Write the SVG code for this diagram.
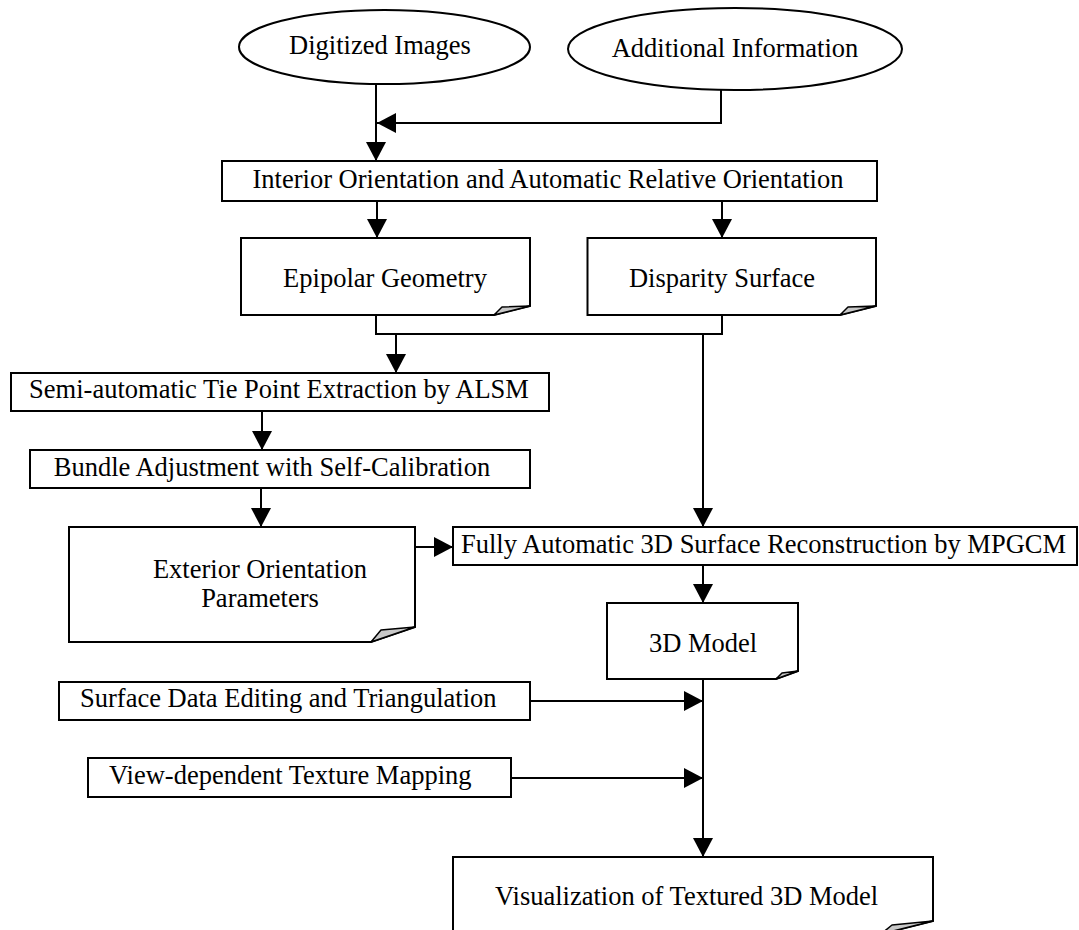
<svg xmlns="http://www.w3.org/2000/svg" width="1079" height="930" viewBox="0 0 1079 930">
  <style>
    .shape { fill: #ffffff; stroke: #000000; stroke-width: 2; }
    .curl { fill: #c8c8c8; stroke: #000000; stroke-width: 1.5; stroke-linejoin: round; }
    .label { font-family: "Liberation Serif", "Times New Roman", serif; font-size: 26.5px; fill: #000000; }
    .mid { text-anchor: middle; }
    .wire { fill: none; stroke: #000000; stroke-width: 2; }
    .arrow { marker-end: url(#head); }
  </style>
  <defs>
    <marker id="head" viewBox="0 0 19 20" refX="19" refY="10" markerWidth="19" markerHeight="20" markerUnits="userSpaceOnUse" orient="auto">
      <path d="M0,0 L19,10 L0,20 Z" fill="#000000"/>
    </marker>
  </defs>

  <rect width="1079" height="930" fill="#ffffff"/>

  <!-- connectors -->
  <g id="connectors">
    <path class="wire arrow" d="M376,84 V161"/>
    <path class="wire arrow" d="M721,90 V123 H377"/>
    <path class="wire arrow" d="M377,201 V238"/>
    <path class="wire arrow" d="M722,201 V238"/>
    <path class="wire" d="M376,315 V334 H722 V315"/>
    <path class="wire arrow" d="M396,334 V373"/>
    <path class="wire arrow" d="M703,334 V527"/>
    <path class="wire arrow" d="M262,411 V450"/>
    <path class="wire arrow" d="M261,488 V527"/>
    <path class="wire arrow" d="M416,547 H453"/>
    <path class="wire arrow" d="M703,565 V603"/>
    <path class="wire arrow" d="M703,679 V857"/>
    <path class="wire arrow" d="M530,701 H703"/>
    <path class="wire arrow" d="M511,778 H703"/>
  </g>

  <!-- inputs -->
  <g id="digitized-images">
    <ellipse class="shape" cx="384.5" cy="47" rx="145.5" ry="37"/>
    <text class="label mid" x="380" y="54">Digitized Images</text>
  </g>
  <g id="additional-information">
    <ellipse class="shape" cx="735" cy="49" rx="167" ry="41"/>
    <text class="label mid" x="735" y="57">Additional Information</text>
  </g>

  <g id="interior-orientation">
    <rect class="shape" x="222" y="161" width="655" height="40"/>
    <text class="label mid" x="548" y="188">Interior Orientation and Automatic Relative Orientation</text>
  </g>

  <g id="epipolar-geometry">
    <path class="shape" d="M241,238 H530 V306 L494,315 H241 Z"/>
    <path class="curl" d="M494,315 L502,307 L530,306 Z"/>
    <text class="label mid" x="385" y="287">Epipolar Geometry</text>
  </g>

  <g id="disparity-surface">
    <path class="shape" d="M587.5,238 H876 V306 L840,315 H587.5 Z"/>
    <path class="curl" d="M840,315 L848,307 L876,306 Z"/>
    <text class="label mid" x="722" y="287">Disparity Surface</text>
  </g>

  <g id="tie-point-extraction">
    <rect class="shape" x="11" y="373" width="538" height="38"/>
    <text class="label mid" x="279" y="398">Semi-automatic Tie Point Extraction by ALSM</text>
  </g>

  <g id="bundle-adjustment">
    <rect class="shape" x="30" y="450" width="500" height="38"/>
    <text class="label mid" x="272" y="476">Bundle Adjustment with Self-Calibration</text>
  </g>

  <g id="exterior-orientation">
    <path class="shape" d="M69,527 H415 V627 L371,642 H69 Z"/>
    <path class="curl" d="M371,642 L381,630 L415,627 Z"/>
    <text class="label mid" x="260" y="578">Exterior Orientation</text>
    <text class="label mid" x="260" y="607">Parameters</text>
  </g>

  <g id="surface-reconstruction">
    <rect class="shape" x="453" y="527" width="624" height="38"/>
    <text class="label" x="461" y="553">Fully Automatic 3D Surface Reconstruction by MPGCM</text>
  </g>

  <g id="model-3d">
    <path class="shape" d="M607,603 H798 V671 L776,679 H607 Z"/>
    <path class="curl" d="M776,679 L782,673 L798,671 Z"/>
    <text class="label mid" x="703" y="652">3D Model</text>
  </g>

  <g id="surface-editing">
    <rect class="shape" x="59" y="682" width="471" height="38"/>
    <text class="label" x="80" y="707">Surface Data Editing and Triangulation</text>
  </g>

  <g id="texture-mapping">
    <rect class="shape" x="88" y="758" width="423" height="39"/>
    <text class="label" x="109" y="784">View-dependent Texture Mapping</text>
  </g>

  <g id="visualization">
    <path class="shape" d="M453,857 H933 V921 L881,934 H453 Z"/>
    <path class="curl" d="M881,934 L892,925 L933,921 Z"/>
    <text class="label" x="495" y="905">Visualization of Textured 3D Model</text>
  </g>
</svg>
